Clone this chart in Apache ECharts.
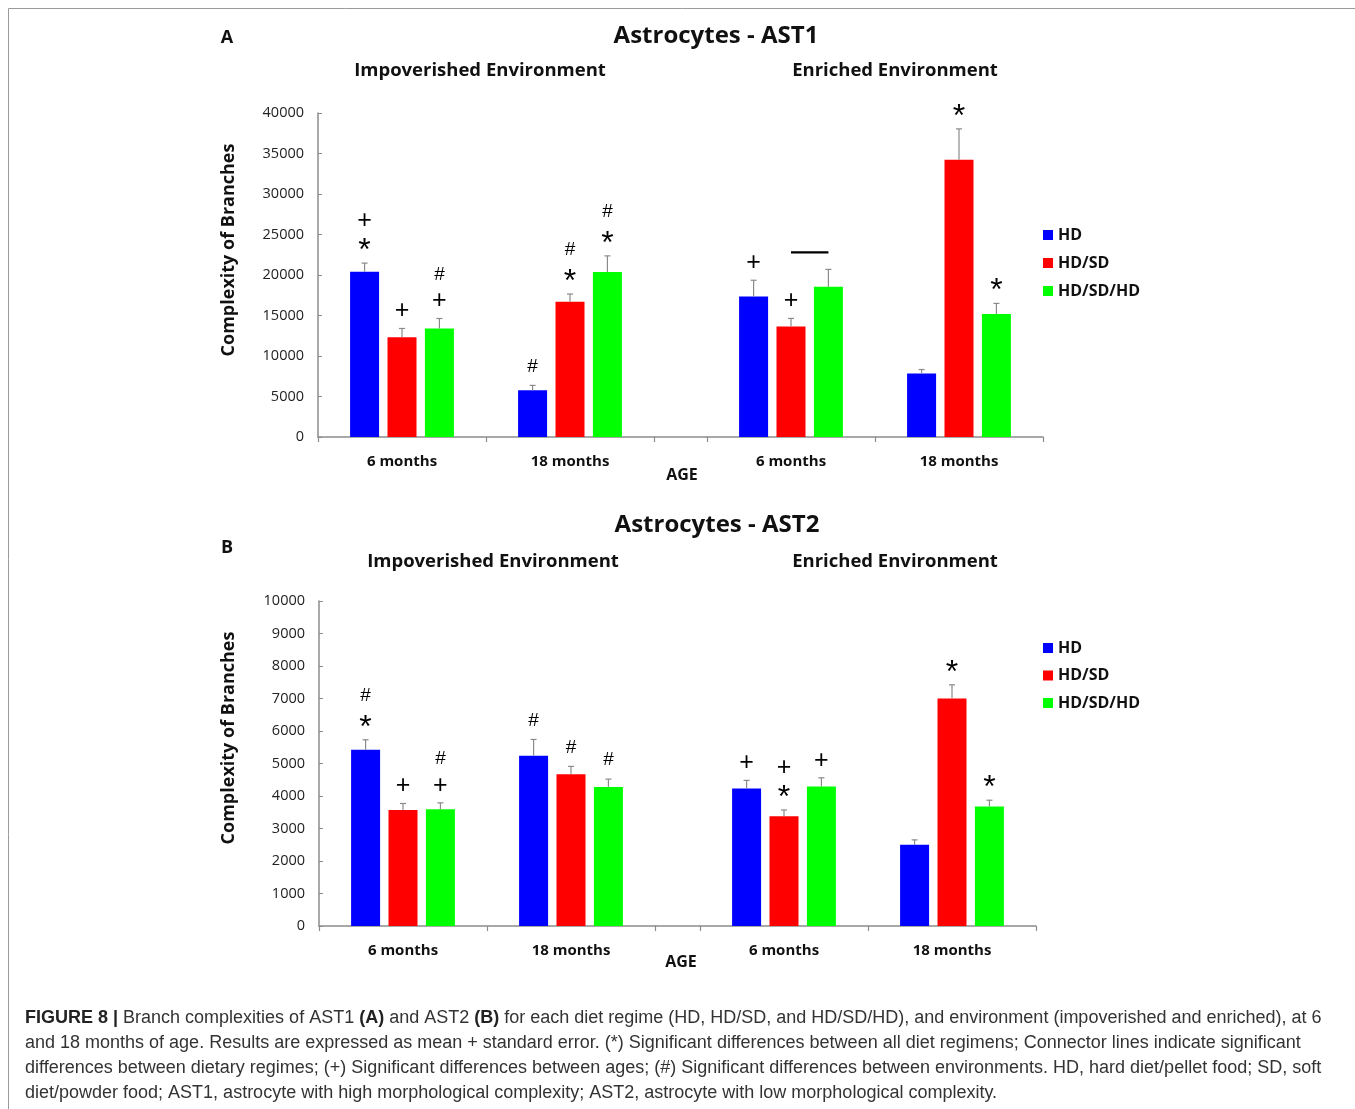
<!DOCTYPE html>
<html>
<head>
<meta charset="utf-8">
<script src="https://cdn.jsdelivr.net/npm/echarts@6/dist/echarts.min.js"></script>
<style>
html,body{margin:0;padding:0;background:#fff;}
#chart{width:1355px;height:1109px;}
</style>
</head>
<body>
<div id="chart"></div>
<script>
// ---------- DATA ----------
const categories = ['6 months', '18 months'];
const diets = ['HD', 'HD/SD', 'HD/SD/HD'];
const dietColors = ['#0000FF', '#FF0000', '#00FF00'];

// Panel A (AST1) – Impoverished environment
const A_imp_HD = [20400, 5770];
const A_imp_HDSD = [12320, 16700];
const A_imp_HDSDHD = [13400, 20360];
const A_imp_HD_se = [1070, 600];
const A_imp_HDSD_se = [1080, 950];
const A_imp_HDSDHD_se = [1230, 2000];
// Panel A (AST1) – Enriched environment
const A_enr_HD = [17350, 7830];
const A_enr_HDSD = [13640, 34240];
const A_enr_HDSDHD = [18540, 15170];
const A_enr_HD_se = [2000, 500];
const A_enr_HDSD_se = [1000, 3800];
const A_enr_HDSDHD_se = [2150, 1320];

// Panel B (AST2) – Impoverished environment
const B_imp_HD = [5420, 5240];
const B_imp_HDSD = [3570, 4670];
const B_imp_HDSDHD = [3590, 4280];
const B_imp_HD_se = [310, 500];
const B_imp_HDSD_se = [200, 240];
const B_imp_HDSDHD_se = [200, 240];
// Panel B (AST2) – Enriched environment
const B_enr_HD = [4230, 2500];
const B_enr_HDSD = [3380, 7000];
const B_enr_HDSDHD = [4290, 3680];
const B_enr_HD_se = [250, 150];
const B_enr_HDSD_se = [190, 420];
const B_enr_HDSDHD_se = [270, 190];

// Significance marks (top to bottom, '\n' separated)
const A_imp_marks = [['+\n*', '#'], ['+', '#\n*'], ['#\n+', '#\n*']];
const A_enr_marks = [['+', ''], ['+', '*'], ['', '*']];
const B_imp_marks = [['#\n*', '#'], ['+', '#'], ['#\n+', '#']];
const B_enr_marks = [['+', ''], ['+\n*', '*'], ['+', '*']];
// Connector lines (drawn from previous diet to this diet)
const A_enr_connectors = [[false, false], [false, false], [true, false]];

// Axis ticks
const A_yMax = 40000, A_yStep = 5000;
const B_yMax = 10000, B_yStep = 1000;

// ---------- STYLE ----------
const FONT = '"Open Sans", sans-serif';
const BAR_W = 29, BAR_GAP = 0.29;
const SPACING = BAR_W * (1 + BAR_GAP);
const AXIS_COLOR = '#8c8c8c';
const SYM_FONT = '"Liberation Sans", Arial, sans-serif';
const GLYPH = {
  '+': {size: 25, dy: 2},
  '*': {size: 32, dy: 7},
  '#': {size: 19, dy: 0}
};

const panels = [
  {grid: 0, vals: [A_imp_HD, A_imp_HDSD, A_imp_HDSDHD], se: [A_imp_HD_se, A_imp_HDSD_se, A_imp_HDSDHD_se], marks: A_imp_marks, conn: null},
  {grid: 1, vals: [A_enr_HD, A_enr_HDSD, A_enr_HDSDHD], se: [A_enr_HD_se, A_enr_HDSD_se, A_enr_HDSDHD_se], marks: A_enr_marks, conn: A_enr_connectors},
  {grid: 2, vals: [B_imp_HD, B_imp_HDSD, B_imp_HDSDHD], se: [B_imp_HD_se, B_imp_HDSD_se, B_imp_HDSDHD_se], marks: B_imp_marks, conn: null},
  {grid: 3, vals: [B_enr_HD, B_enr_HDSD, B_enr_HDSDHD], se: [B_enr_HD_se, B_enr_HDSD_se, B_enr_HDSDHD_se], marks: B_enr_marks, conn: null}
];

function errRenderer(di, marks, conn) {
  return function (params, api) {
    const j = api.value(0), v = api.value(1), e = api.value(2);
    const p0 = api.coord([j, v]);
    const p1 = api.coord([j, v + e]);
    const x = p0[0] + (di - 1) * SPACING;
    const ls = {stroke: '#8a8a8a', lineWidth: 1.2};
    const children = [
      {type: 'line', shape: {x1: x, y1: p0[1], x2: x, y2: p1[1]}, style: ls},
      {type: 'line', shape: {x1: x - 3, y1: p1[1], x2: x + 3, y2: p1[1]}, style: ls}
    ];
    const m = marks[di][j];
    const syms = m ? m.split('\n').reverse() : [];
    syms.forEach(function (s, k) {
      const g = GLYPH[s];
      children.push({type: 'text', style: {
        text: s, x: x, y: p1[1] - 19 - k * 25 + g.dy,
        align: 'center', verticalAlign: 'middle',
        fontSize: g.size, fontFamily: SYM_FONT, fill: '#000'
      }});
    });
    if (conn && conn[di][j]) {
      children.push({type: 'line', shape: {x1: x - SPACING, y1: p1[1] - 17, x2: x, y2: p1[1] - 17},
        style: {stroke: '#000', lineWidth: 2.2}});
    }
    return {type: 'group', children: children};
  };
}

const series = [];
panels.forEach(function (p) {
  diets.forEach(function (name, di) {
    series.push({
      type: 'bar', name: name, xAxisIndex: p.grid, yAxisIndex: p.grid,
      data: p.vals[di], barWidth: BAR_W, barGap: (BAR_GAP * 100) + '%',
      itemStyle: {color: dietColors[di]}, z: 2
    });
  });
  diets.forEach(function (name, di) {
    series.push({
      type: 'custom', name: name + ' SE', xAxisIndex: p.grid, yAxisIndex: p.grid,
      clip: false, z: 3,
      encode: {x: 0, y: 1},
      data: p.vals[di].map(function (v, j) { return [j, v, p.se[di][j]]; }),
      renderItem: errRenderer(di, p.marks, p.conn)
    });
  });
});

const grids = [
  {left: 318, top: 113, width: 336, height: 324},
  {left: 707, top: 113, width: 336, height: 324},
  {left: 319, top: 601, width: 336, height: 325},
  {left: 700, top: 601, width: 336, height: 325}
];

const xAxes = grids.map(function (g, i) {
  return {
    type: 'category', gridIndex: i, data: categories,
    axisLine: {lineStyle: {color: AXIS_COLOR, width: 1.5}},
    axisTick: {show: true, length: 5, lineStyle: {color: AXIS_COLOR, width: 1.2}},
    axisLabel: {fontFamily: FONT, fontWeight: 'bold', fontSize: 15, color: '#111', margin: 17}
  };
});

function yAxisFor(i, max, step, visible) {
  return {
    type: 'value', gridIndex: i, min: 0, max: max, interval: step, show: visible,
    splitLine: {show: false},
    axisLine: {show: true, lineStyle: {color: AXIS_COLOR, width: 1.5}},
    axisTick: {show: true, inside: true, length: 4, lineStyle: {color: AXIS_COLOR}},
    axisLabel: {fontFamily: FONT, fontSize: 14.5, color: '#222', margin: 14,
      formatter: function (v) { return String(v); }}
  };
}
const yAxes = [
  yAxisFor(0, A_yMax, A_yStep, true),
  yAxisFor(1, A_yMax, A_yStep, false),
  yAxisFor(2, B_yMax, B_yStep, true),
  yAxisFor(3, B_yMax, B_yStep, false)
];

function legendAt(top, gap) {
  return {
    orient: 'vertical', left: 1038, top: top, itemWidth: 10, itemHeight: 10, itemGap: gap,
    icon: 'rect', data: diets, selectedMode: false,
    textStyle: {fontFamily: FONT, fontWeight: 'bold', fontSize: 16, color: '#111', lineHeight: 16}
  };
}

function txt(text, x, y, size, opts) {
  return Object.assign({type: 'text', x: x, y: y, silent: true, style: {
    text: text, fontFamily: FONT, fontWeight: 'bold', fontSize: size, fill: '#111',
    align: 'center', verticalAlign: 'middle'
  }}, opts || {});
}

const CAP_FONT = '"Liberation Sans", Arial, sans-serif';
const captionLines = [
  '{b|FIGURE 8 |} Branch complexities of AST1 {b|(A)} and AST2 {b|(B)} for each diet regime (HD, HD/SD, and HD/SD/HD), and environment (impoverished and enriched), at 6',
  'and 18 months of age. Results are expressed as mean + standard error. (*) Significant differences between all diet regimens; Connector lines indicate significant',
  'differences between dietary regimes; (+) Significant differences between ages; (#) Significant differences between environments. HD, hard diet/pellet food; SD, soft',
  'diet/powder food; AST1, astrocyte with high morphological complexity; AST2, astrocyte with low morphological complexity.'
];

const graphics = [
  {type: 'rect', silent: true, shape: {x: 8.5, y: 8.5, width: 1400, height: 1200}, style: {fill: 'none', stroke: '#9a9a9a', lineWidth: 1}},
  // axis line bridging the two environment groups
  {type: 'line', silent: true, shape: {x1: 654, y1: 437, x2: 707, y2: 437}, style: {stroke: AXIS_COLOR, lineWidth: 1.5}},
  {type: 'line', silent: true, shape: {x1: 655, y1: 926, x2: 700, y2: 926}, style: {stroke: AXIS_COLOR, lineWidth: 1.5}},
  txt('A', 227, 38, 18),
  txt('Astrocytes - AST1', 716, 36, 24),
  txt('Impoverished Environment', 480, 71, 18.5),
  txt('Enriched Environment', 895, 71, 18.5),
  txt('AGE', 682, 475, 16),
  txt('Complexity of Branches', 229, 250, 18, {rotation: Math.PI / 2}),
  txt('B', 227, 548, 18),
  txt('Astrocytes - AST2', 717, 525, 24),
  txt('Impoverished Environment', 493, 562, 18.5),
  txt('Enriched Environment', 895, 562, 18.5),
  txt('AGE', 681, 962, 16),
  txt('Complexity of Branches', 229, 738, 18, {rotation: Math.PI / 2})
];
captionLines.forEach(function (line, i) {
  graphics.push({type: 'text', x: 25, y: 1018 + i * 25, silent: true, style: {
    text: line, fontFamily: CAP_FONT, fontSize: 18, fill: '#333',
    align: 'left', verticalAlign: 'middle',
    rich: {b: {fontFamily: CAP_FONT, fontSize: 18, fontWeight: 'bold', fill: '#222'}}
  }});
});

const chart = echarts.init(document.getElementById('chart'), null, {renderer: 'canvas'});
chart.setOption({
  animation: false,
  backgroundColor: '#fff',
  grid: grids,
  xAxis: xAxes,
  yAxis: yAxes,
  legend: [legendAt(222, 12), legendAt(635, 11.5)],
  series: series,
  graphic: graphics
});
</script>
</body>
</html>
